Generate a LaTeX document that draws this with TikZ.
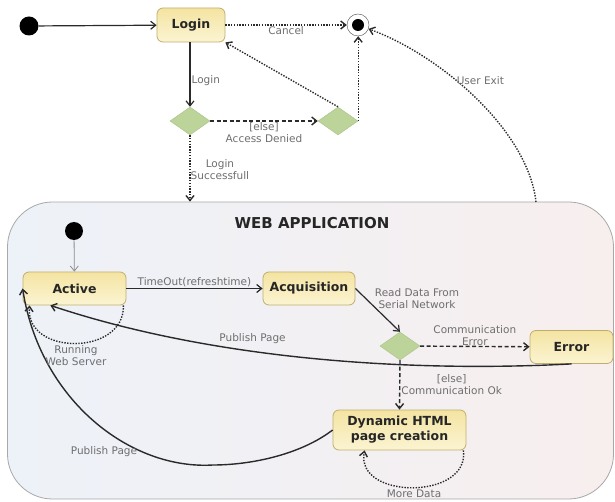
\documentclass[tikz,border=0pt]{standalone}
\usepackage{fontspec}
\setmainfont{DejaVu Sans}
\usetikzlibrary{shapes.geometric,arrows.meta}
\definecolor{nodetop}{HTML}{F4E4A2}
\definecolor{nodebot}{HTML}{FBF4D2}
\definecolor{nodeborder}{HTML}{C2AE6C}
\definecolor{dia}{HTML}{BCD39A}
\definecolor{diaborder}{HTML}{A9C286}
\definecolor{lbl}{HTML}{6E6E6E}
\definecolor{webleft}{HTML}{EDF2F8}
\definecolor{webright}{HTML}{F7EEEE}
\definecolor{webborder}{HTML}{A8A8A8}
\definecolor{lineclr}{HTML}{2A2A2A}
\tikzset{
  statebox/.style={draw=nodeborder, line width=0.8pt, rounded corners=6pt, top color=nodetop, bottom color=nodebot,
    font=\bfseries\fontsize{12.5}{14}\selectfont, text=black!85, inner sep=0pt},
  choice/.style={diamond, draw=diaborder, fill=dia, minimum width=40pt, minimum height=28pt, inner sep=0pt},
  startdot/.style={circle, fill=black, minimum size=18pt, inner sep=0pt},
  lab/.style={font=\fontsize{10.5}{12}\selectfont, text=lbl, align=center},
  tip/.style={-{Straight Barb[length=5pt,width=8pt]}},
  solidarr/.style={tip, draw=lineclr, line width=1.2pt},
  dashedarr/.style={tip, draw=lineclr, line width=1.4pt, dash pattern=on 4pt off 2.5pt},
  dottedarr/.style={tip, draw=lineclr, line width=1.4pt, dash pattern=on 1.4pt off 1.4pt},
}
\begin{document}
\begin{tikzpicture}[x=1pt,y=1pt]
\useasboundingbox (0,0) rectangle (615,-502);
% container
\node[draw=webborder, line width=0.8pt, rounded corners=45pt, left color=webleft, right color=webright,
  minimum width=606pt, minimum height=297pt, inner sep=0pt] (web) at (310.5,-350.5) {};
\node[font=\bfseries\fontsize{15}{17}\selectfont, text=black!85] (title) at (312,-223) {WEB APPLICATION};

% top level
\node[startdot, minimum size=19pt] (init) at (29,-26) {};
\node[statebox, minimum width=68pt, minimum height=34pt] (login) at (191,-25) {Login};
\node[circle, draw=black!70, fill=white, minimum size=22pt, inner sep=0pt] (final) at (358,-25) {};
\node[circle, fill=black, minimum size=12pt, inner sep=0pt] (finaldot) at (358,-25) {};
\node[choice] (d1) at (190,-121) {};
\node[choice] (d2) at (338,-121) {};
\coordinate (ue) at (536,-202);

\draw[solidarr] (init) -- (login);
\draw[dottedarr] (login) -- node[lab, below, inner sep=1pt] {Cancel} (final);
\draw[solidarr] (login.south -| d1) -- node[lab, right, pos=0.6, inner sep=1pt] {Login} (d1.north);
\draw[dashedarr] (d1) -- node[lab, below, inner sep=1pt] {[else]\\Access Denied} (d2);
\draw[dottedarr] (d2.east) -- (final.south -| d2.east);
\draw[dottedarr] (d2.north) -- (login.south east);
\draw[dottedarr] (d1.south) -- node[lab, right, inner sep=0pt, pos=0.52] {Login\\Successfull} (d1.south |- web.north);
\draw[dottedarr] (ue) .. controls (528,-130) and (440,-55) .. node[lab, pos=0.6, anchor=west, inner sep=0pt] {User Exit} (final);

% inside web application
\node[startdot] (init2) at (74,-231) {};
\node[statebox, minimum width=103pt, minimum height=33pt] (active) at (74.5,-288.5) {Active};
\node[statebox, minimum width=92pt, minimum height=33pt] (acq) at (309,-288.5) {Acquisition};
\node[choice] (d3) at (400,-346) {};
\node[statebox, minimum width=83pt, minimum height=33pt] (error) at (571.5,-347) {Error};
\node[statebox, minimum width=133pt, minimum height=40pt, align=center, font=\bfseries\fontsize{12.5}{15}\selectfont] (dyn) at (399.5,-430) {Dynamic HTML\\page creation};

\draw[tip, draw=black!45, line width=0.8pt] (init2) -- (active);
\draw[solidarr] (active) -- node[lab, above, inner sep=1.5pt] {TimeOut(refreshtime)} (acq);
\draw[solidarr] (acq.east) -- (d3.north);
\node[lab] (readlbl) at (417,-299) {Read Data From\\Serial Network};
\draw[dashedarr] (d3) -- node[lab, above, inner sep=0pt] {Communication\\Error} (error);
\draw[dashedarr] (d3.south) -- node[lab, right, inner sep=1pt] {[else]\\Communication Ok} (dyn.north);

% publish page from error
\draw[solidarr, line width=1.4pt] (error.south) .. controls (420,-372) and (220,-362) .. node[lab, pos=0.62, above=4pt] {Publish Page} (active.215);
% publish page from dynamic
\draw[solidarr, line width=1.4pt] (dyn.west) .. controls (300,-455) and (250,-465) .. (213,-465)
   .. controls (130,-470) and (40,-400) .. (active.west);
\node[lab] (pp2) at (104,-452) {Publish Page};

% self loops
\draw[dottedarr] ([xshift=-3pt]active.south east) .. controls (125,-356) and (25,-356) .. ([xshift=7pt]active.south west);
\node[lab] (runlbl) at (76,-356) {Running\\Web Server};
\draw[dottedarr] ([xshift=-3pt]dyn.south east) .. controls (470,-500) and (355,-500) .. ([xshift=32pt]dyn.south west);
\node[lab] (morelbl) at (414,-494) {More Data};
\end{tikzpicture}
\end{document}
